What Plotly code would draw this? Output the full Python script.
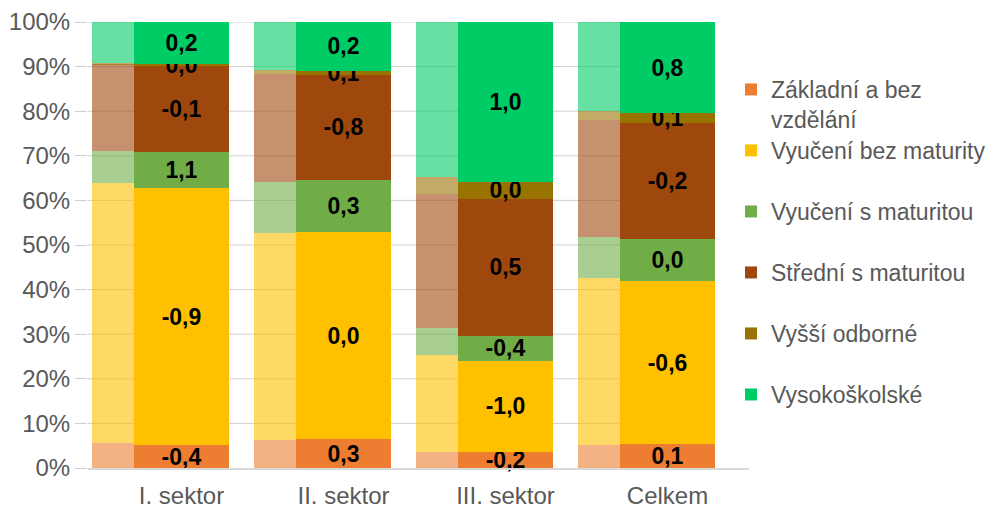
# Imports
import plotly.graph_objects as go

# Categories and education levels
categories = ["I. sektor", "II. sektor", "III. sektor", "Celkem"]
levels = [
    "Základní a bez<br>vzdělání",
    "Vyučení bez maturity",
    "Vyučení s maturitou",
    "Střední s maturitou",
    "Vyšší odborné",
    "Vysokoškolské",
]

# Previous period shares (%), faded bars
prev_zakladni = [5.5, 6.2, 3.7, 5.2]
prev_vyuc_bez = [58.5, 46.5, 21.6, 37.3]
prev_vyuc_s = [7.1, 11.4, 6.0, 9.3]
prev_stredni = [19.4, 24.3, 30.1, 26.2]
prev_vyssi = [0.3, 0.9, 3.9, 2.1]
prev_vs = [9.2, 10.7, 34.7, 19.9]

# Current period shares (%), solid bars
cur_zakladni = [5.1, 6.5, 3.5, 5.3]
cur_vyuc_bez = [57.6, 46.4, 20.6, 36.7]
cur_vyuc_s = [8.2, 11.7, 5.6, 9.3]
cur_stredni = [19.3, 23.5, 30.6, 26.0]
cur_vyssi = [0.3, 1.0, 3.9, 2.2]
cur_vs = [9.5, 10.9, 35.8, 20.5]

# Change in percentage points (labels on solid bars)
diff_zakladni = [-0.4, 0.3, -0.2, 0.1]
diff_vyuc_bez = [-0.9, 0.0, -1.0, -0.6]
diff_vyuc_s = [1.1, 0.3, -0.4, 0.0]
diff_stredni = [-0.1, -0.8, 0.5, -0.2]
diff_vyssi = [0.0, 0.1, 0.0, 0.1]
diff_vs = [0.2, 0.2, 1.0, 0.8]

prev = [prev_zakladni, prev_vyuc_bez, prev_vyuc_s, prev_stredni, prev_vyssi, prev_vs]
cur = [cur_zakladni, cur_vyuc_bez, cur_vyuc_s, cur_stredni, cur_vyssi, cur_vs]
diffs = [diff_zakladni, diff_vyuc_bez, diff_vyuc_s, diff_stredni, diff_vyssi, diff_vs]

# Colors (faded bars use the same color with opacity)
colors = ["#ED7D31", "#FFC000", "#70AD47", "#9E480E", "#997300", "#00CC66"]

# Legend rows (pixel y of the first text line in the window)
legend_y = [90, 151, 212, 273, 334, 395]

FONT = "Liberation Sans, Arial, sans-serif"
GREY = "#595959"
BAR_W = 0.586
PREV_SHIFT = -0.26

# Page has an 8px body margin, so the figure is 8px smaller each way
FIG_W, FIG_H, PAGE_PAD = 990, 500, 8

x_pos = list(range(len(categories)))

fig = go.Figure()

# Faded (previous) bars first so the solid ones sit on top
for i, level in enumerate(levels):
    fig.add_trace(
        go.Bar(
            x=[x + PREV_SHIFT for x in x_pos],
            y=prev[i],
            width=BAR_W,
            marker=dict(color=colors[i], opacity=0.6, line_width=0),
            showlegend=False,
            hoverinfo="skip",
        )
    )

# Solid (current) bars with the change labels
for i, level in enumerate(levels):
    fig.add_trace(
        go.Bar(
            x=x_pos,
            y=cur[i],
            width=BAR_W,
            name=level,
            marker=dict(color=colors[i], line_width=0),
            text=[f"{d:.1f}".replace(".", ",") for d in diffs[i]],
            textposition="inside",
            insidetextanchor="middle",
            textangle=0,
            constraintext="none",
            cliponaxis=False,
            textfont=dict(family=FONT, size=23, color="black", weight="bold"),
            legend="legend" if i == 0 else f"legend{i + 1}",
        )
    )

# Gridlines (stop short of the right end like the original)
shapes = []
for v in range(10, 101, 10):
    shapes.append(
        dict(
            type="line",
            xref="paper",
            yref="y",
            x0=0,
            x1=0.936,
            y0=v,
            y1=v,
            line=dict(color="#D0D0D0", width=1),
            layer="below",
        )
    )

# One legend per item so the spacing can follow the original
legends = {}
for i in range(len(levels)):
    key = "legend" if i == 0 else f"legend{i + 1}"
    legends[key] = dict(
        xref="container",
        yref="container",
        x=(731 - PAGE_PAD) / FIG_W,
        y=1 - (legend_y[i] - 30) / FIG_H,
        xanchor="left",
        yanchor="top",
        valign="top",
        bgcolor="rgba(0,0,0,0)",
        font=dict(family=FONT, size=23, color=GREY),
    )

fig.update_layout(
    barmode="stack",
    template="plotly_white",
    width=FIG_W,
    height=FIG_H,
    margin=dict(l=80, r=249, t=14, b=40, autoexpand=False),
    plot_bgcolor="white",
    paper_bgcolor="white",
    uniformtext=dict(minsize=23, mode="show"),
    shapes=shapes,
    font=dict(family=FONT, color=GREY),
    **legends,
)

fig.update_xaxes(
    range=[-0.577, 3.503],
    tickvals=x_pos,
    ticktext=categories,
    showgrid=False,
    zeroline=False,
    showline=True,
    linecolor="#D9D9D9",
    linewidth=2,
    ticks="",
    ticklabelstandoff=5,
    tickfont=dict(family=FONT, size=24, color=GREY),
)

fig.update_yaxes(
    range=[0, 100],
    dtick=10,
    ticksuffix="%",
    showgrid=False,
    zeroline=False,
    ticks="outside",
    ticklen=12,
    tickcolor="#D0D0D0",
    tickfont=dict(family=FONT, size=24, color=GREY),
)

fig.write_html("out.html")
